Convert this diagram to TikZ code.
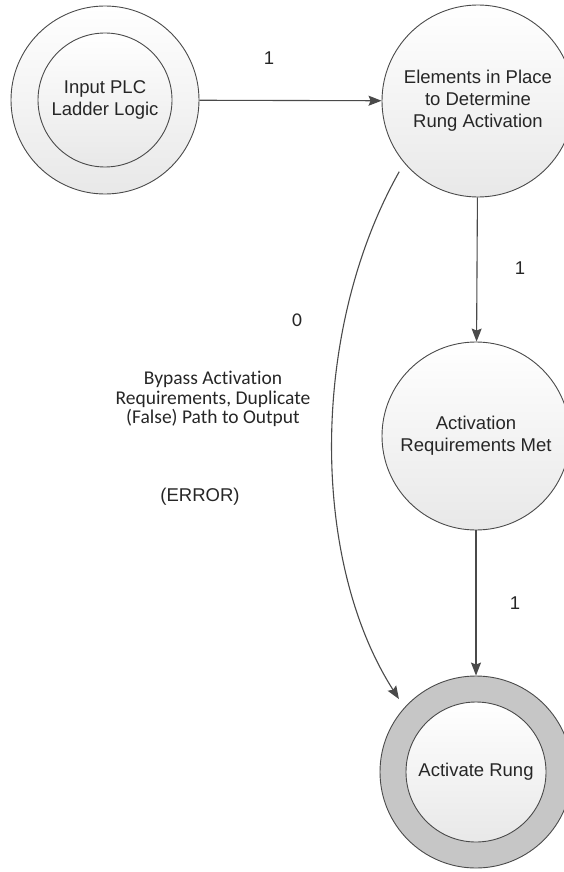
\documentclass[tikz,border=0pt]{standalone}
\usepackage{fontspec}
\setmainfont{Liberation Sans}
\newfontfamily\calibrifont[Ligatures=NoCommon]{Carlito}
\usetikzlibrary{arrows.meta}
\definecolor{linegray}{HTML}{4A4A4A}
\definecolor{ringgray}{HTML}{C6C6C6}
\begin{document}
\begin{tikzpicture}[x=1pt,y=-1pt,
  state/.style={circle, draw=linegray, line width=0.9pt, inner sep=0pt,
    top color=white, bottom color=black!9, align=center,
    font=\fontsize{18.5}{22}\selectfont, text=black!85},
  ring/.style={circle, draw=linegray, line width=0.9pt, inner sep=0pt},
  flow/.style={draw=linegray, line width=1.1pt,
    -{Stealth[length=13pt,width=10pt,inset=2pt]}},
  lbl/.style={font=\fontsize{18.5}{22}\selectfont, text=black!85},
  note/.style={font=\calibrifont\fontsize{19.5}{19.5}\selectfont, text=black!85, align=center}
]
\useasboundingbox (0,0) rectangle (564,872);

% start state: double circle
\node[state, minimum size=188pt] (A) at (105,100) {};
\node[state, minimum size=134pt] (Ain) at (105,100) {Input PLC\\Ladder Logic};

% intermediate states
\node[state, minimum size=192pt] (B) at (478,101)
  {Elements in Place\\to Determine\\Rung Activation};
\node[state, minimum size=188pt] (C) at (476,436)
  {Activation\\Requirements Met};

% final state: gray ring with inner circle
\node[ring, fill=ringgray, minimum size=192pt] (D) at (476,772) {};
\node[state, minimum size=140pt] (Din) at (476,772) {Activate Rung};

% transitions
\draw[flow] (A) -- (B);
\draw[flow] (B) -- (C);
\draw[flow] (C) -- (D);
\draw[flow, shorten <=10pt, shorten >=10pt]
  (B.220) .. controls (310,330) and (310,560) .. (D.138);

% transition labels
\node[lbl] (l1) at (269,58) {1};
\node[lbl] (l2) at (520,268) {1};
\node[lbl] (l3) at (515,603) {1};
\node[note] (l0) at (297,320) {0};
\node[note] (bypass) at (213,399)
  {Bypass Activation\\Requirements, Duplicate\\(False) Path to Output};
\node[lbl] (err) at (200,497) {(ERROR)};
\end{tikzpicture}
\end{document}
